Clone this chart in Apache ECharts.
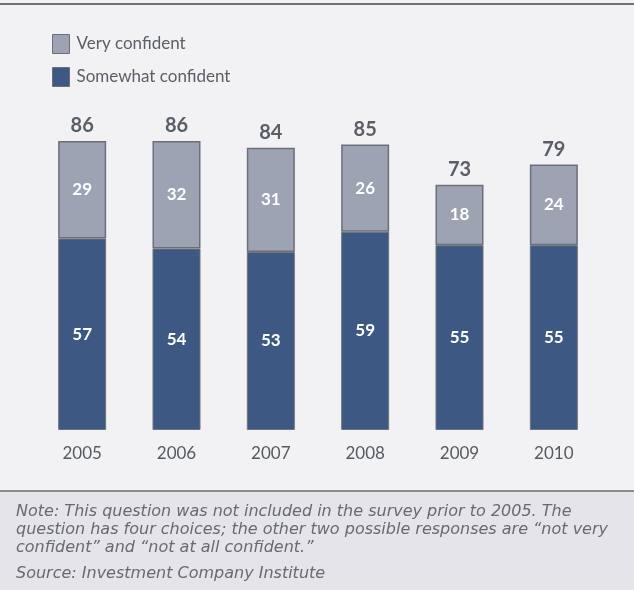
<!DOCTYPE html>
<html><head><meta charset="utf-8">
<script src="https://cdn.jsdelivr.net/npm/echarts@6/dist/echarts.min.js"></script>
<style>html,body{margin:0;padding:0;background:#f2f2f4;}#c{width:634px;height:590px;}</style>
</head><body><div id="c"></div>
<script>
const years = ['2005','2006','2007','2008','2009','2010'];
const veryConfident = [29, 32, 31, 26, 18, 24];
const somewhatConfident = [57, 54, 53, 59, 55, 55];
const totals = [86, 86, 84, 85, 73, 79];
const noteLines = [
  'Note: This question was not included in the survey prior to 2005. The',
  'question has four choices; the other two possible responses are \u201cnot very',
  'confident\u201d and \u201cnot at all confident.\u201d'
];
const sourceLine = 'Source: Investment Company Institute';

const font = 'Lato, "Open Sans", sans-serif';
const noteFont = '"DejaVu Sans", sans-serif';
const chart = echarts.init(document.getElementById('c'));
chart.setOption({
  backgroundColor: '#f2f2f4',
  animation: false,
  legend: {
    orient: 'vertical', left: 47, top: 29, itemWidth: 17, itemHeight: 19, itemGap: 13, icon: 'rect',
    data: ['Very confident', 'Somewhat confident'],
    itemStyle: { borderColor: '#6b6f7a', borderWidth: 1 },
    textStyle: { color: '#5a5e66', fontSize: 17, fontFamily: font, padding: [0,0,0,2] }
  },
  grid: { left: 35, width: 566, top: 94, height: 336 },
  xAxis: {
    type: 'category', data: years,
    axisLine: { show: false }, axisTick: { show: false },
    axisLabel: { color: '#555a62', fontSize: 17, fontFamily: font, margin: 15 }
  },
  yAxis: { type: 'value', min: 0, max: 100, show: false, splitLine: { show: false } },
  series: [
    { name: 'Somewhat confident', type: 'bar', stack: 's', barWidth: 48, data: somewhatConfident,
      itemStyle: { color: '#3d5983', borderColor: '#6f737c', borderWidth: 1 },
      label: { show: true, position: 'inside', color: '#fff', fontSize: 17, fontFamily: font, fontWeight: 'bold' } },
    { name: 'Very confident', type: 'bar', stack: 's', barWidth: 48, data: veryConfident,
      itemStyle: { color: '#9ea3b4', borderColor: '#6b6f7a', borderWidth: 1.5 },
      label: { show: true, position: 'inside', color: '#fff', fontSize: 17, fontFamily: font, fontWeight: 'bold' } },
    { name: 'total', type: 'bar', stack: 's', barWidth: 48, data: totals.map(() => 0),
      itemStyle: { color: 'transparent' },
      label: { show: true, position: 'top', distance: 5, color: '#5a5e66', fontSize: 20, fontFamily: font, fontWeight: 'bold',
        formatter: p => String(totals[p.dataIndex]) } }
  ],
  graphic: [
    { type: 'rect', left: 0, top: 3, shape: { width: 634, height: 2 }, style: { fill: '#6e7178' }, silent: true },
    { type: 'rect', left: 0, top: 491, shape: { width: 634, height: 99 }, style: { fill: '#e5e5e9' }, silent: true },
    { type: 'rect', left: 0, top: 490, shape: { width: 634, height: 2 }, style: { fill: '#8a8c92' }, silent: true },
    ...noteLines.map((t, i) => ({ type: 'text', left: 16, top: 504 + i * 18,
      style: { text: t, fill: '#666a72', font: 'italic 16px ' + noteFont } })),
    { type: 'text', left: 16, top: 566, style: { text: sourceLine, fill: '#666a72', font: 'italic 16px ' + noteFont } }
  ]
});
</script></body></html>
